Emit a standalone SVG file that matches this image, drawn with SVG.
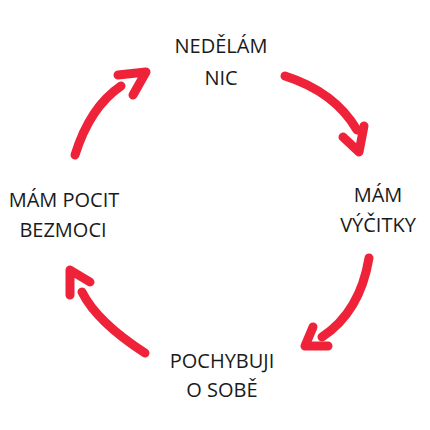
<svg xmlns="http://www.w3.org/2000/svg" width="430" height="430" viewBox="0 0 430 430">
<style>
.t{font-family:"Open Sans","DejaVu Sans",sans-serif;font-size:20px;fill:#1a1a1a;text-anchor:middle}
.a{fill:none;stroke:#EE2339;stroke-width:9;stroke-linecap:round;stroke-linejoin:round}
</style>
<rect width="430" height="430" fill="#fff"/>
<g id="connectors">
<g id="arrow1"><path class="a" d="M285,76 Q335,92 357,130"/><path class="a" d="M343,137 L359,152 L364,126"/></g>
<g id="arrow2"><path class="a" d="M369,258 Q360,312 322,337"/><path class="a" d="M313,327 L305,346 L328,346"/></g>
<g id="arrow3"><path class="a" d="M145,353 Q97,322 82,292"/><path class="a" d="M70,295 L70,270 L90,282"/></g>
<g id="arrow4"><path class="a" d="M75,155 Q90,107 121,86"/><path class="a" d="M118,75 L146,72 L133,95"/></g>
</g>
<g id="node-top"><text class="t" x="221" y="53">NEDĚLÁM</text><text class="t" x="221" y="85">NIC</text></g>
<g id="node-right"><text class="t" x="378" y="202">MÁM</text><text class="t" x="378" y="232">VÝČITKY</text></g>
<g id="node-bottom"><text class="t" x="222" y="368">POCHYBUJI</text><text class="t" x="222" y="397">O SOBĚ</text></g>
<g id="node-left"><text class="t" x="64" y="207">MÁM POCIT</text><text class="t" x="63" y="237">BEZMOCI</text></g>
</svg>
